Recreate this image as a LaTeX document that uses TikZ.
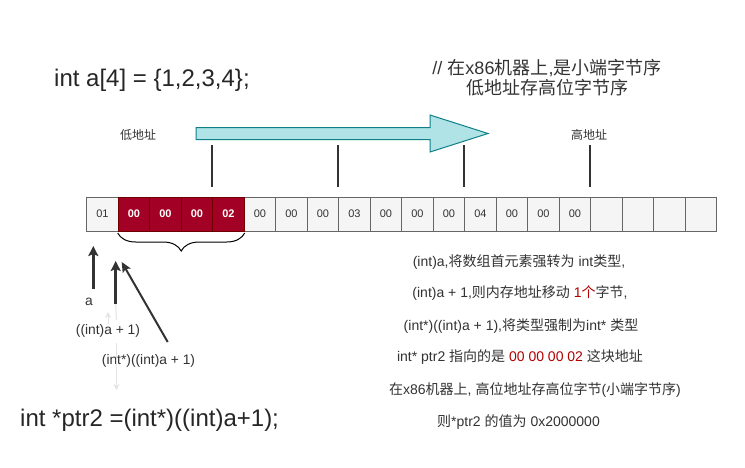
\documentclass[tikz,border=0pt]{standalone}
\usepackage{fontspec}
\setmainfont{Liberation Sans}
\newfontfamily\zhfont{Noto Sans CJK SC}
\newcommand{\zh}[1]{{\zhfont #1}}
\usepackage{tikz}
\usetikzlibrary{arrows.meta,positioning,decorations.pathreplacing}
\definecolor{ink}{HTML}{333333}
\definecolor{cellgray}{HTML}{F5F5F5}
\definecolor{cellline}{HTML}{666666}
\definecolor{bytered}{HTML}{A20025}
\definecolor{bytedark}{HTML}{6F0000}
\definecolor{tealfill}{HTML}{B0E3E6}
\definecolor{tealline}{HTML}{0E8088}
\definecolor{hilite}{HTML}{B20000}
\definecolor{faint}{HTML}{E4E4E4}

\begin{document}
\begin{tikzpicture}[
  x=1pt,y=-1pt,
  every node/.style={inner sep=0pt,text=ink},
  cell/.style={draw=cellline,line width=1pt,fill=cellgray,minimum width=31.5pt,minimum height=34pt,font=\fontsize{11}{13}\selectfont},
  hot/.style={cell,draw=bytedark,fill=bytered,text=white,font=\fontsize{11}{13}\selectfont\bfseries},
  code/.style={anchor=west,text=black!85,font=\fontsize{24}{28}\selectfont},
  note/.style={font=\fontsize{14}{16}\selectfont},
  tag/.style={font=\fontsize{13.8}{16}\selectfont},
  side/.style={font=\fontsize{12}{14}\selectfont\zhfont},
  tick/.style={line width=2pt,color=ink},
  ptr/.style={-{Stealth[length=10pt,width=10pt,inset=2pt]},line width=3pt,color=ink},
  slim/.style={-{Stealth[length=10pt,width=9pt,inset=2pt]},line width=2pt,color=ink},
  ghost/.style={line width=1pt,color=faint}
]
\path[use as bounding box,fill=white] (0,0) rectangle (745,467);

% declarations
\node[code] (decl) at (54,80) {int a[4] = \{1,2,3,4\};};
\node[code] (cast) at (20,420) {int *ptr2 =(int*)((int)a+1);};
\node[align=center,font=\fontsize{18}{20}\selectfont] (cmt) at (547,78)
  {// \zh{在}x86\zh{机器上},\zh{是小端字节序}\\\zh{低地址存高位字节序}};

% address direction
\draw[tealline,fill=tealfill,line width=1pt] (196,127.5) -- (430,127.5) -- (430,115) -- (488,133.5)
  -- (430,152) -- (430,139.5) -- (196,139.5) -- cycle;
\node[side] (lo) at (138,135) {低地址};
\node[side] (hi) at (589,135) {高地址};

% memory bytes
\foreach \v [count=\i from 0] in {01,00,00,00,02,00,00,00,03,00,00,00,04,00,00,00,,,,}
  \node[cell] (c\i) at ({102.45+31.5*\i},214) {\v};
\foreach \i in {1,...,4}
  \node[hot] at (c\i) {\ifnum\i=4 02\else 00\fi};
\foreach \k in {4,8,12,16}
  \draw[tick] ([yshift=10pt]c\k.north west) -- ++(0,-42);
\draw[line width=1pt,decorate,decoration={brace,mirror,amplitude=18pt}]
  ([yshift=-1.5pt]c1.south west) -- ([yshift=-1.5pt]c4.south east);

% pointers
\node[tag] (lblA) at (89,302) {a};
\node[tag] (lblB) at (108,331) {((int)a + 1)};
\node[tag] (lblC) at (148.5,361) {(int*)((int)a + 1)};
\coordinate (aTail) at (93.3,289);
\coordinate (aTip) at (93.3,246);
\coordinate (bTail) at (115.7,304);
\coordinate (bTip) at (115.7,261);
\coordinate (cTail) at (167.7,342);
\coordinate (cTip) at (121.7,262);
\draw[ptr] (aTail) -- (aTip);
\draw[ptr] (bTail) -- (bTip);
\draw[slim] (cTail) -- (cTip);
\coordinate (gTop) at (108,312);
\coordinate (gLow) at (116.5,390);
\draw[ghost] (bTail) -- (116.5,320);
\draw[ghost,-{Stealth[length=6pt,width=6pt]}] (lblB.north -| gTop) -- (gTop);
\draw[ghost,-{Stealth[length=6pt,width=6pt]}] (116.5,343) -- (gLow);

% explanation
\node[note] (n1) at (519,262) {(int)a,\zh{将数组首元素强转为} int\zh{类型},};
\node[note] (n2) at (520,293) {(int)a + 1,\zh{则内存地址移动} \textcolor{hilite}{1\zh{个}}\zh{字节},};
\node[note] (n3) at (521,326) {(int*)((int)a + 1),\zh{将类型强制为}int* \zh{类型}};
\node[note] (n4) at (520,357) {int* ptr2 \zh{指向的是} \textcolor{hilite}{00 00 00 02} \zh{这块地址}};
\node[note] (n5) at (535,390) {\zh{在}x86\zh{机器上}, \zh{高位地址存高位字节}(\zh{小端字节序})};
\node[note] (n6) at (518.5,422) {\zh{则}*ptr2 \zh{的值为} 0x2000000};
\end{tikzpicture}
\end{document}
